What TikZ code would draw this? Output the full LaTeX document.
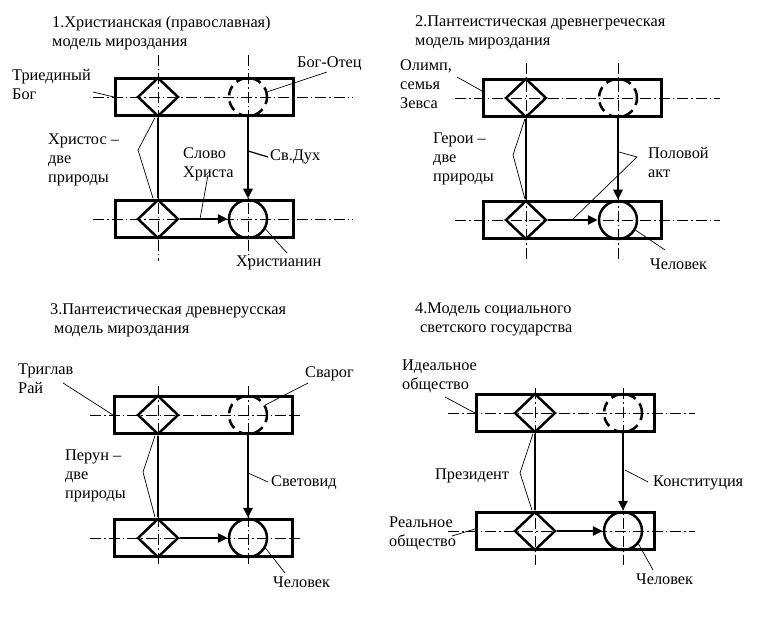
\documentclass[tikz,border=0pt]{standalone}
\usepackage{fontspec}
\setmainfont{Liberation Serif}
\usetikzlibrary{arrows.meta,shapes.geometric}

\newcommand{\lblfont}{\fontsize{16.3}{19}\selectfont}

\begin{document}
\begin{tikzpicture}[
    x=1pt, y=-1pt,
    band/.style={draw, line width=3pt, minimum width=178pt, minimum height=37pt, inner sep=0pt},
    rhomb/.style={draw, diamond, line width=2.5pt, minimum width=41pt, minimum height=39pt, inner sep=0pt},
    soul/.style={draw, circle, line width=2.5pt, minimum size=38pt, inner sep=0pt},
    ghost/.style={soul, dash pattern=on 10pt off 6pt},
    axis/.style={line width=0.8pt, dash pattern=on 11pt off 3pt on 1.5pt off 3pt},
    flow/.style={line width=2.8pt, -{Triangle[length=10pt,width=9pt]}},
    link/.style={line width=2.8pt},
    lead/.style={line width=0.7pt},
    lbl/.style={anchor=north west, inner sep=0pt, align=left, font=\lblfont,
      execute at begin node=\strut}
  ]
  \useasboundingbox (0,0) rectangle (774,628);

  % the four models share one frame
  \foreach \p/\xl/\yt/\yb/\xd/\xc/\vt/\vb/\lx/\rx in {
      a/114/97/219/158/248/55/261/93/353,
      b/482/98/220/526/618/63/260/455/720,
      c/113/415/538/158/248/386/565/90/300,
      d/475/413/531/535/623/388/565/448/695}{
    \draw[axis] (\lx,\yt) -- (\rx,\yt);
    \draw[axis] (\lx,\yb) -- (\rx,\yb);
    \draw[axis] (\xd,\vt) -- (\xd,\vb);
    \draw[axis] (\xc,\vt) -- (\xc,\vb);
    \node[band] (\p-up) at ({\xl+90.5},\yt) {};
    \node[band] (\p-dn) at ({\xl+90.5},\yb) {};
    \node[rhomb] (\p-hi) at (\xd,\yt) {};
    \node[rhomb] (\p-lo) at (\xd,\yb) {};
    \node[ghost] (\p-sky) at (\xc,\yt) {};
    \node[soul] (\p-man) at (\xc,\yb) {};
    \draw[link] (\p-hi.south) -- (\p-lo.north);
    \draw[flow] (\p-sky.south) -- (\p-man.north);
    \draw[flow] (\p-lo.east) -- (\p-man.west);
  }

  % 1. christian model
  \node[lbl] (a-title) at (52,16) {1.Христианская (православная)\\модель мироздания};
  \node[lbl] (a-trin) at (12,69) {Триединый\\Бог};
  \node[lbl] (a-fath) at (297,54) {Бог-Отец};
  \node[lbl] (a-chr) at (48,134) {Христос –\\две\\природы};
  \node[lbl] (a-word) at (183,148) {Слово\\Христа};
  \node[lbl] (a-spir) at (270,147) {Св.Дух};
  \node[lbl] (a-xian) at (236,253) {Христианин};
  \coordinate (a-trin-e) at (93,92);
  \coordinate (a-fath-e) at (327,72);
  \coordinate (a-chr-e) at (138,150);
  \coordinate (a-word-e) at (208,175);
  \coordinate (a-word-t) at (200,219);
  \coordinate (a-spir-t) at (248,151);
  \coordinate (a-spir-e) at (268,157);
  \coordinate (a-xian-e) at (287,253);
  \draw[lead] (a-trin-e) -- (a-up.west);
  \draw[lead] (a-sky.15) -- (a-fath-e);
  \draw[lead] ([xshift=-3pt]a-hi.south) -- (a-chr-e) -- ([xshift=-5pt]a-lo.north);
  \draw[lead] (a-word-e) -- (a-word-t);
  \draw[lead, line width=1.2pt] (a-spir-t) -- (a-spir-e);
  \draw[lead] (a-man.-30) -- (a-xian-e);

  % 2. ancient greek model
  \node[lbl] (b-title) at (415,16) {2.Пантеистическая древнегреческая\\модель мироздания};
  \node[lbl] (b-olym) at (400,60) {Олимп,\\семья\\Зевса};
  \node[lbl] (b-hero) at (433,133) {Герои –\\две\\природы};
  \node[lbl] (b-act) at (648,147) {Половой\\акт};
  \node[lbl] (b-hum) at (650,256) {Человек};
  \coordinate (b-olym-e) at (457,77);
  \coordinate (b-hero-e) at (513,155);
  \coordinate (b-act-e) at (637,157);
  \coordinate (b-act-v) at (619,152);
  \coordinate (b-act-h) at (572,220);
  \coordinate (b-hum-e) at (665,250);
  \draw[lead] (b-olym-e) -- ([yshift=7pt]b-up.west);
  \draw[lead] ([xshift=-1pt]b-hi.south) -- (b-hero-e) -- ([xshift=-1pt]b-lo.north);
  \draw[lead] (b-act-v) -- (b-act-e) -- (b-act-h);
  \draw[lead] (b-man.-30) -- (b-hum-e);

  % 3. ancient russian model
  \node[lbl] (c-title) at (50,304) {3.Пантеистическая древнерусская\\\hspace{4pt}модель мироздания};
  \node[lbl] (c-trig) at (18,364) {Триглав\\Рай};
  \node[lbl] (c-svar) at (305,364) {Сварог};
  \node[lbl] (c-per) at (65,450) {Перун –\\две\\природы};
  \node[lbl] (c-svet) at (271,473) {Световид};
  \node[lbl] (c-hum) at (273,574) {Человек};
  \coordinate (c-trig-e) at (63,383);
  \coordinate (c-svar-e) at (308,383);
  \coordinate (c-per-e) at (143,472);
  \coordinate (c-svet-t) at (248,473);
  \coordinate (c-svet-e) at (268,482);
  \coordinate (c-hum-e) at (285,573);
  \draw[lead] (c-trig-e) -- (c-up.west);
  \draw[lead] (c-sky.30) -- (c-svar-e);
  \draw[lead] ([xshift=-3pt]c-hi.south) -- (c-per-e) -- ([xshift=-3pt]c-lo.north);
  \draw[lead] (c-svet-t) -- (c-svet-e);
  \draw[lead] (c-man.-30) -- (c-hum-e);

  % 4. secular state model
  \node[lbl] (d-title) at (415,303) {4.Модель социального\\\hspace{5pt}светского государства};
  \node[lbl] (d-ideal) at (402,360) {Идеальное\\общество};
  \node[lbl] (d-pres) at (435,466) {Президент};
  \node[lbl] (d-const) at (653,473) {Конституция};
  \node[lbl] (d-real) at (389,517) {Реальное\\общество};
  \node[lbl] (d-hum) at (636,571) {Человек};
  \coordinate (d-ideal-e) at (445,397);
  \coordinate (d-pres-e) at (520,473);
  \coordinate (d-const-t) at (625,470);
  \coordinate (d-const-e) at (648,482);
  \coordinate (d-real-e) at (452,536);
  \coordinate (d-hum-e) at (653,570);
  \draw[lead] (d-ideal-e) -- (d-up.west);
  \draw[lead] ([xshift=-2pt]d-hi.south) -- (d-pres-e) -- ([xshift=-3pt]d-lo.north);
  \draw[lead] (d-const-t) -- (d-const-e);
  \draw[lead] (d-real-e) -- ([yshift=2pt]d-dn.west);
  \draw[lead] (d-man.-40) -- (d-hum-e);
\end{tikzpicture}
\end{document}
